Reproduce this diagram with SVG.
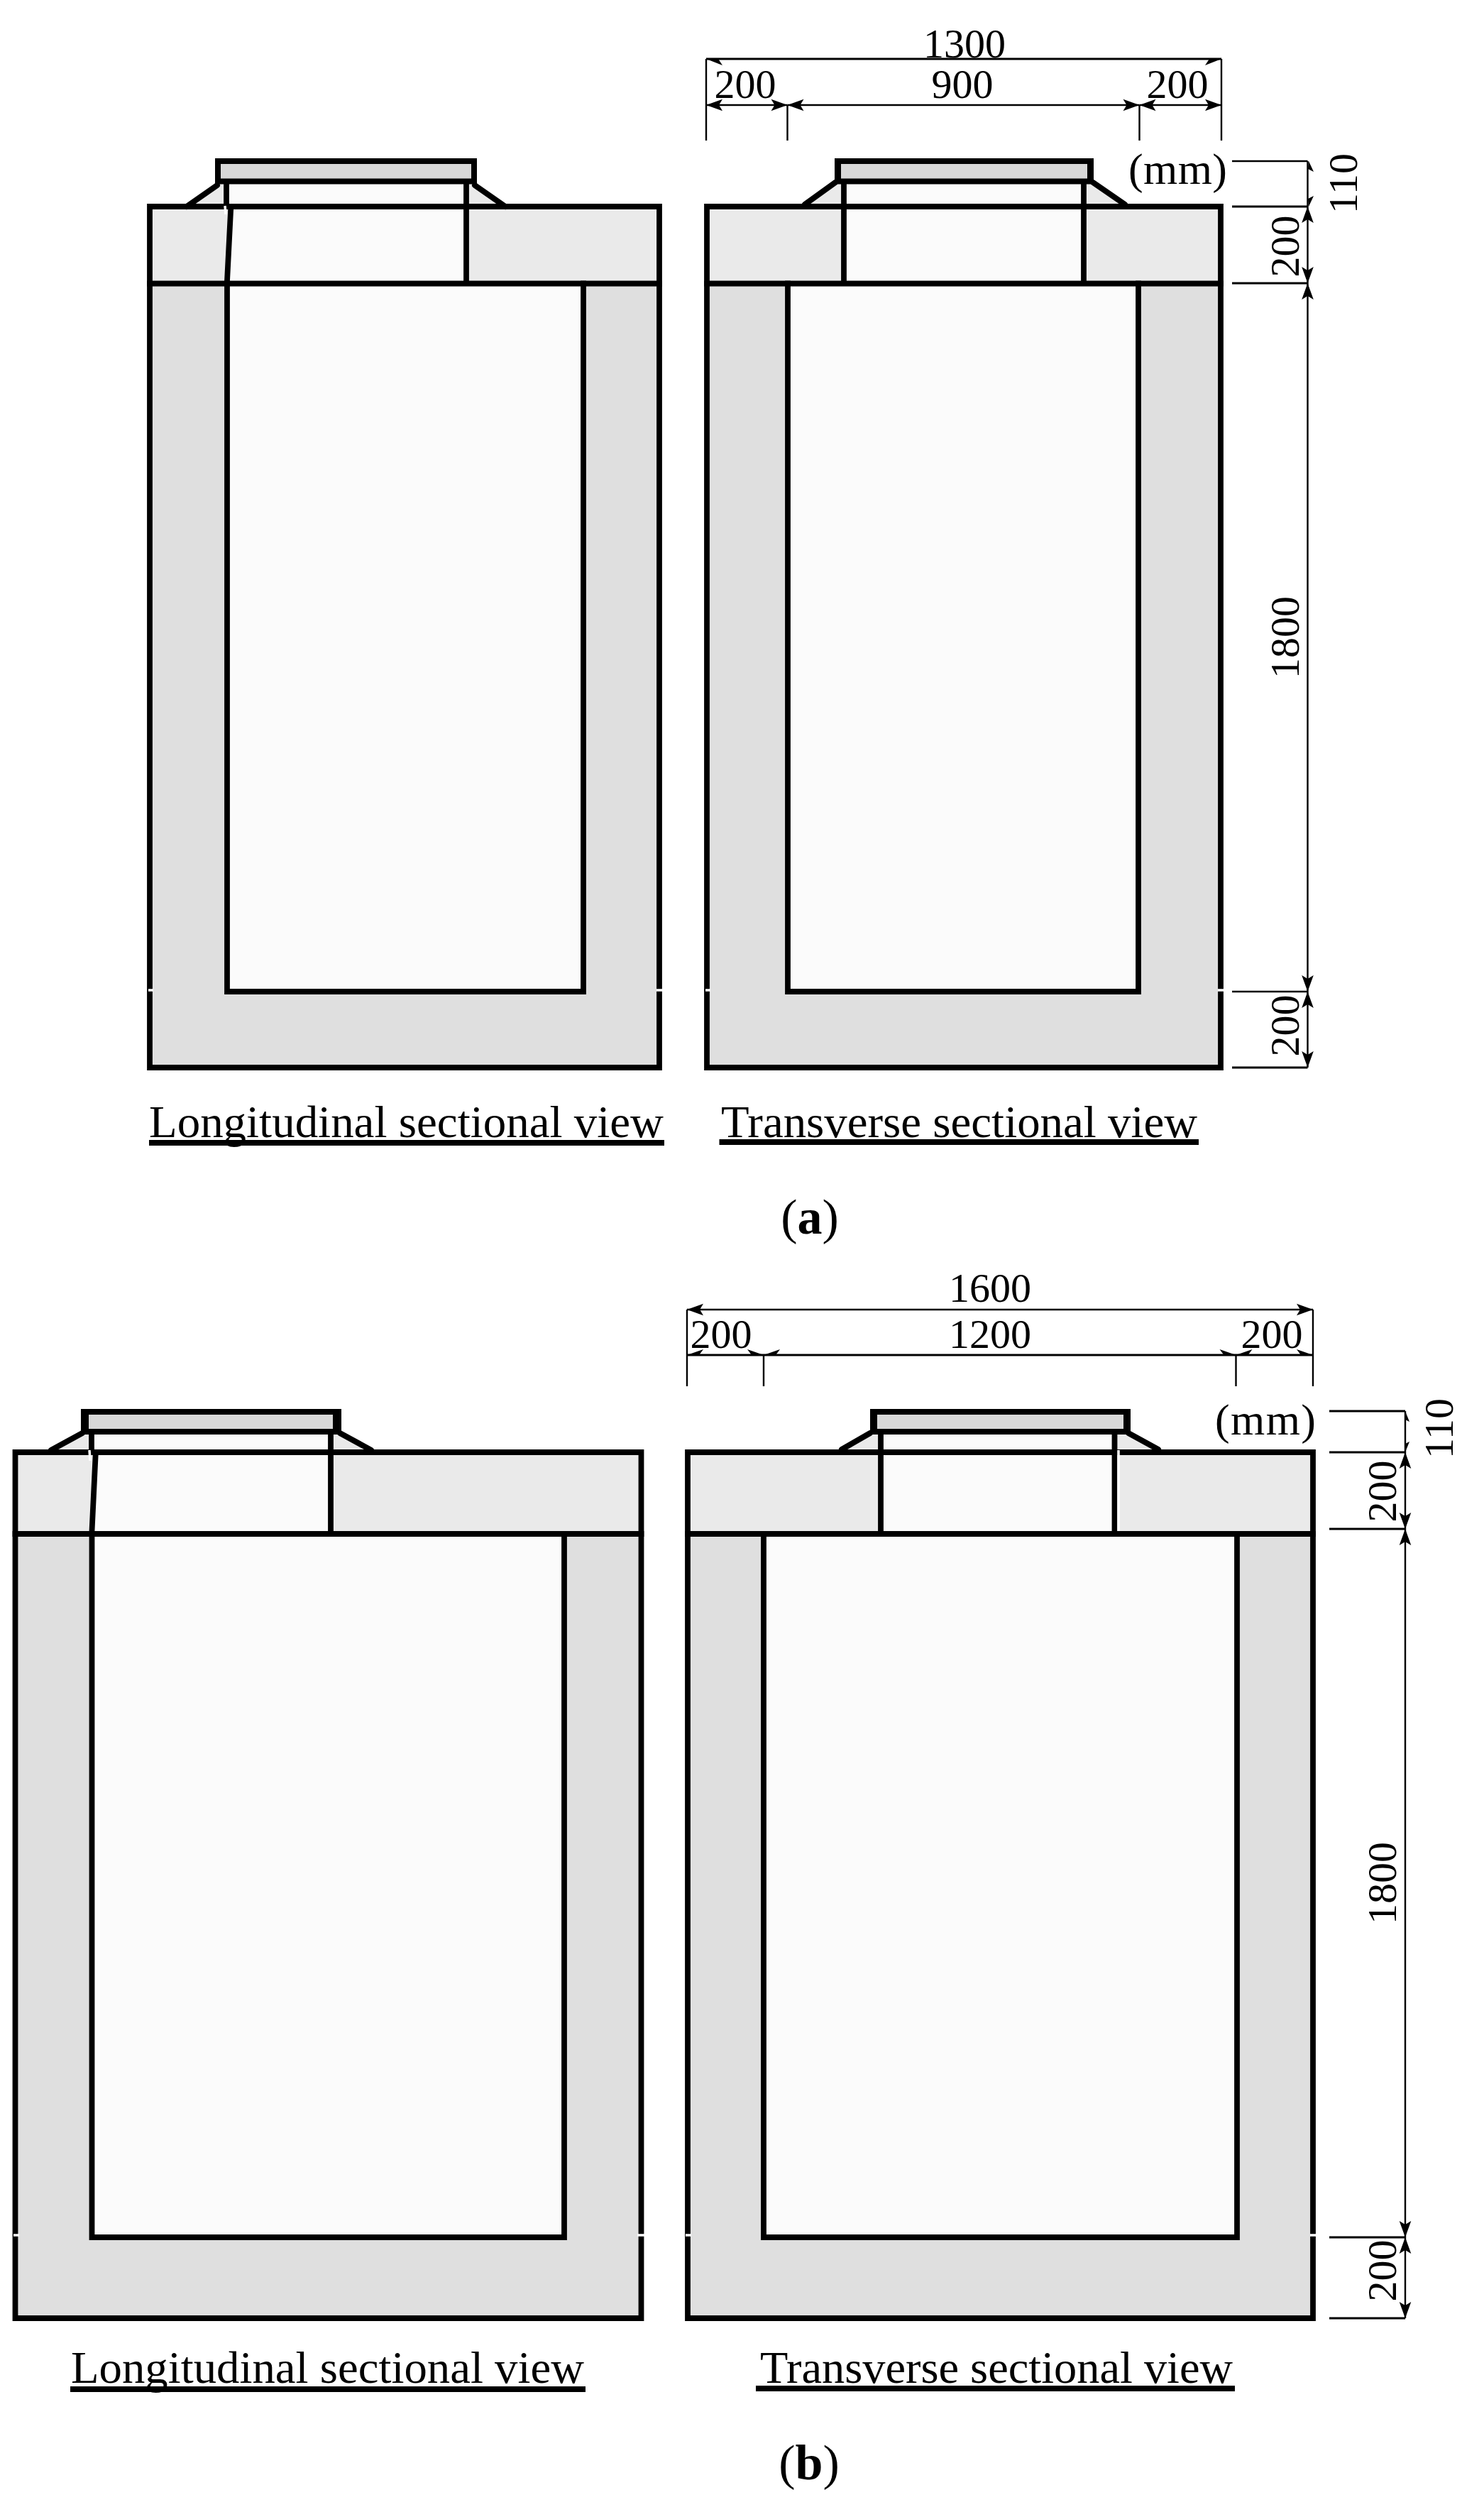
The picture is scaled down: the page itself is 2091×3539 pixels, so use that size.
<svg xmlns="http://www.w3.org/2000/svg" width="2091" height="3539" viewBox="0 0 2091 3539">
<style>
text{font-family:"Liberation Serif","Times New Roman",serif;fill:#000}
.dim{font-size:58px;text-anchor:middle}
.cap{font-size:64px}
.fig{font-size:70px;text-anchor:middle}
.mm{font-size:62px}
.s{fill:none;stroke:#000;stroke-width:7.8;stroke-linecap:square;stroke-linejoin:miter}
.f{fill:none;stroke:#000;stroke-width:8;stroke-linecap:round}
.ul{stroke:#000;stroke-width:8}
.slab{fill:#eaeaea}
.wall{fill:#dfdfdf}
.in{fill:#fbfbfb}
.top{fill:#d8d8d8}
.gap{stroke:#fff;stroke-width:3.5;fill:none}
.d{stroke:#000;stroke-width:2.4;fill:none}
.d3{stroke:#000;stroke-width:3.2;fill:none}
.a{stroke:#000;stroke-width:2.4;fill:none;marker-start:url(#ar);marker-end:url(#ar)}
.h{fill:#000}
</style>
<defs>
<marker id="ar" markerUnits="userSpaceOnUse" viewBox="-24 -10 26 20" markerWidth="26" markerHeight="20" refX="0" refY="0" orient="auto-start-reverse">
<path d="M0,0L-23,-8.3L-18,0L-23,8.3Z" fill="#000"/>
</marker>
</defs>
<rect width="2091" height="3539" fill="#fff"/>

<g id="a-longitudinal">
<path class="wall" d="M211,399H929V1504H211Z"/>
<path class="slab" d="M211,291H929V400H211Z"/>
<path class="slab" d="M261,291L308,259H319V291ZM657,259H668L715,291H657Z"/>
<path class="in" d="M319,259H657V400H319ZM320,400H822V1397H320Z"/>
<path class="slab" d="M215,295H325L319,396H215Z"/>
<rect class="top" x="307" y="227" width="361" height="29"/>
<path class="s" d="M211,1504V291H929V1504Z"/>
<path class="s" d="M211,399.500H929"/>
<path class="s" d="M320,399.500V1397H822V399.500"/>
<path class="s" d="M319,256V291M657,256V399"/>
<path class="s" d="M325,298L320,396"/>
<rect x="303" y="223" width="8" height="36"/><rect x="664" y="223" width="8" height="36"/>
<path class="s" d="M307,227H668M307,255.500H668"/>
<path class="f" d="M263,291L306,261M669,261L712,291"/>
<path class="gap" d="M317,290L318,302M209,1395H216M925,1395H933"/>
</g>

<g id="a-transverse">
<path class="wall" d="M996,399H1720V1504H996Z"/>
<path class="slab" d="M996,291H1720V400H996Z"/>
<path class="slab" d="M1132,291L1177,255H1189V291ZM1527,255H1539L1585,291H1527Z"/>
<path class="in" d="M1189,255H1527V400H1189ZM1110,400H1604V1397H1110Z"/>
<rect class="top" x="1181" y="227" width="355" height="29"/>
<path class="s" d="M996,1504V291H1720V1504Z"/>
<path class="s" d="M996,399.500H1720"/>
<path class="s" d="M1110,399.500V1397H1604V399.500"/>
<path class="s" d="M1189,256V399M1527,256V399"/>
<rect x="1176" y="223" width="9" height="36"/><rect x="1532" y="223" width="9" height="36"/>
<path class="s" d="M1180,227H1537M1180,255.500H1537"/>
<path class="f" d="M1134,288L1177,257M1540,257L1585,288"/>
<path class="gap" d="M994,1395H1001M1716,1395H1725"/>
</g>

<g id="b-longitudinal">
<path class="wall" d="M21.500,2161H903.500V3266H21.500Z"/>
<path class="slab" d="M21.500,2046H903.500V2162H21.500Z"/>
<path class="slab" d="M70,2046L118,2018H129V2046ZM466,2018H477L525,2046H466Z"/>
<path class="in" d="M129,2018H466V2162H129ZM129.500,2162H795V3152H129.500Z"/>
<path class="slab" d="M25,2050H135L129,2157H25Z"/>
<rect class="top" x="120" y="1989" width="355" height="28"/>
<path class="s" d="M21.500,3266V2046H903.500V3266Z"/>
<path class="s" d="M21.500,2161H903.500"/>
<path class="s" d="M129.500,2161V3152H795V2161"/>
<path class="s" d="M129,2017V2046M466,2017V2161"/>
<path class="s" d="M134.500,2053L129.500,2157"/>
<rect x="114" y="1985" width="11" height="36"/><rect x="469" y="1985" width="12" height="36"/>
<path class="s" d="M118,1989H477M118,2017H477"/>
<path class="f" d="M72,2043L116,2019M479,2019L523,2043"/>
<path class="gap" d="M126,2043L127,2058M19,3149H27M898,3149H908"/>
</g>

<g id="b-transverse">
<path class="wall" d="M969,2161H1850V3266H969Z"/>
<path class="slab" d="M969,2046H1850V2162H969Z"/>
<path class="slab" d="M1184,2046L1228,2018H1241V2046ZM1570,2018H1589L1635,2046H1570Z"/>
<path class="in" d="M1241,2018H1570V2162H1241ZM1076,2162H1743V3152H1076Z"/>
<rect class="top" x="1232" y="1989" width="354" height="28"/>
<path class="s" d="M969,3266V2046H1850V3266Z"/>
<path class="s" d="M969,2161H1850"/>
<path class="s" d="M1076,2161V3152H1743V2161"/>
<path class="s" d="M1241,2017V2161M1570.500,2017V2161"/>
<rect x="1226" y="1985" width="10" height="36"/><rect x="1583" y="1985" width="10" height="36"/>
<path class="s" d="M1230,1989H1589M1230,2017H1589"/>
<path class="f" d="M1186,2042L1226,2019M1590,2019L1632,2042"/>
<path class="gap" d="M1576,2043V2157M966,3149H974M1846,3149H1855"/>
</g>

<g id="connectors">
<path class="d3" d="M995,83H1721"/>
<path class="h" d="M995,83L1018,92L1012,83ZM1721,83L1698,92L1704,83Z"/>
<path class="d" d="M995,83V198M1721,83V198M1109.500,148V198M1605.500,148V198"/>
<path class="a" d="M995,148H1109.500"/><path class="a" d="M1109.500,148H1605.500"/><path class="a" d="M1605.500,148H1721"/>
<path class="d" d="M1736,227H1842.500M1842.500,227V291"/>
<path class="d3" d="M1736,291H1842.500M1736,399H1842.500"/>
<path class="d" d="M1736,1397H1842.500"/><path class="d3" d="M1736,1504H1842.500"/>
<path class="h" d="M1844,227L1851,242L1843,238ZM1844,291L1851,276L1843,280Z"/>
<path class="a" d="M1842.500,291V399"/><path class="a" d="M1842.500,399V1397"/><path class="a" d="M1842.500,1397V1504"/>

<path class="a" d="M968,1845H1850"/>
<path class="d" d="M968,1845V1953M1850,1845V1953M1076,1909V1953M1741.500,1909V1953"/>
<path class="d3" d="M968,1909H1850"/>
<path class="h" d="M968,1909L991,1901L985,1909ZM1076,1909L1053,1901L1059,1909ZM1076,1909L1099,1901L1093,1909ZM1741.500,1909L1718.500,1901L1724.500,1909ZM1741.500,1909L1764.500,1901L1758.500,1909ZM1850,1909L1827,1901L1833,1909Z"/>
<path class="d3" d="M1873,1988H1980M1873,2046H1980M1873,2154H1980M1873,3152H1980M1873,3266H1980"/>
<path class="d" d="M1980,1988V2046"/>
<path class="h" d="M1980,1988L1986,2003L1980,2000ZM1980,2046L1986,2031L1980,2034Z"/>
<path class="a" d="M1980,2046V2154"/><path class="a" d="M1980,2154V3152"/><path class="a" d="M1980,3152V3266"/>
</g>

<g id="labels">
<text class="dim" x="1359" y="81">1300</text>
<text class="dim" x="1050" y="137.500">200</text>
<text class="dim" x="1356" y="137.500">900</text>
<text class="dim" x="1659" y="137.500">200</text>
<text class="mm" x="1590" y="259" textLength="139">(mm)</text>
<text class="dim" transform="translate(1912,258.500) rotate(-90)">110</text>
<text class="dim" transform="translate(1830,347) rotate(-90)">200</text>
<text class="dim" transform="translate(1830,898) rotate(-90)">1800</text>
<text class="dim" transform="translate(1830,1445) rotate(-90)">200</text>
<text class="cap" x="210" y="1602" textLength="725" lengthAdjust="spacingAndGlyphs">Longitudinal sectional view</text>
<text class="cap" x="1016" y="1602" textLength="671" lengthAdjust="spacingAndGlyphs">Transverse sectional view</text>
<path class="ul" d="M210,1610H936M1013.500,1609H1689"/>
<text class="fig" x="1141" y="1738">(<tspan font-weight="bold">a</tspan>)</text>

<text class="dim" x="1395" y="1834">1600</text>
<text class="dim" x="1016" y="1899">200</text>
<text class="dim" x="1395" y="1899">1200</text>
<text class="dim" x="1792" y="1899">200</text>
<text class="mm" x="1712" y="2021" textLength="142">(mm)</text>
<text class="dim" transform="translate(2047,2012.500) rotate(-90)">110</text>
<text class="dim" transform="translate(1967,2101) rotate(-90)">200</text>
<text class="dim" transform="translate(1967,2653) rotate(-90)">1800</text>
<text class="dim" transform="translate(1967,3199) rotate(-90)">200</text>
<text class="cap" x="100" y="3357" textLength="723" lengthAdjust="spacingAndGlyphs">Longitudinal sectional view</text>
<text class="cap" x="1071" y="3357" textLength="666" lengthAdjust="spacingAndGlyphs">Transverse sectional view</text>
<path class="ul" d="M99,3366H825M1065,3365H1740"/>
<text class="fig" x="1140" y="3493">(<tspan font-weight="bold">b</tspan>)</text>
</g>
</svg>
